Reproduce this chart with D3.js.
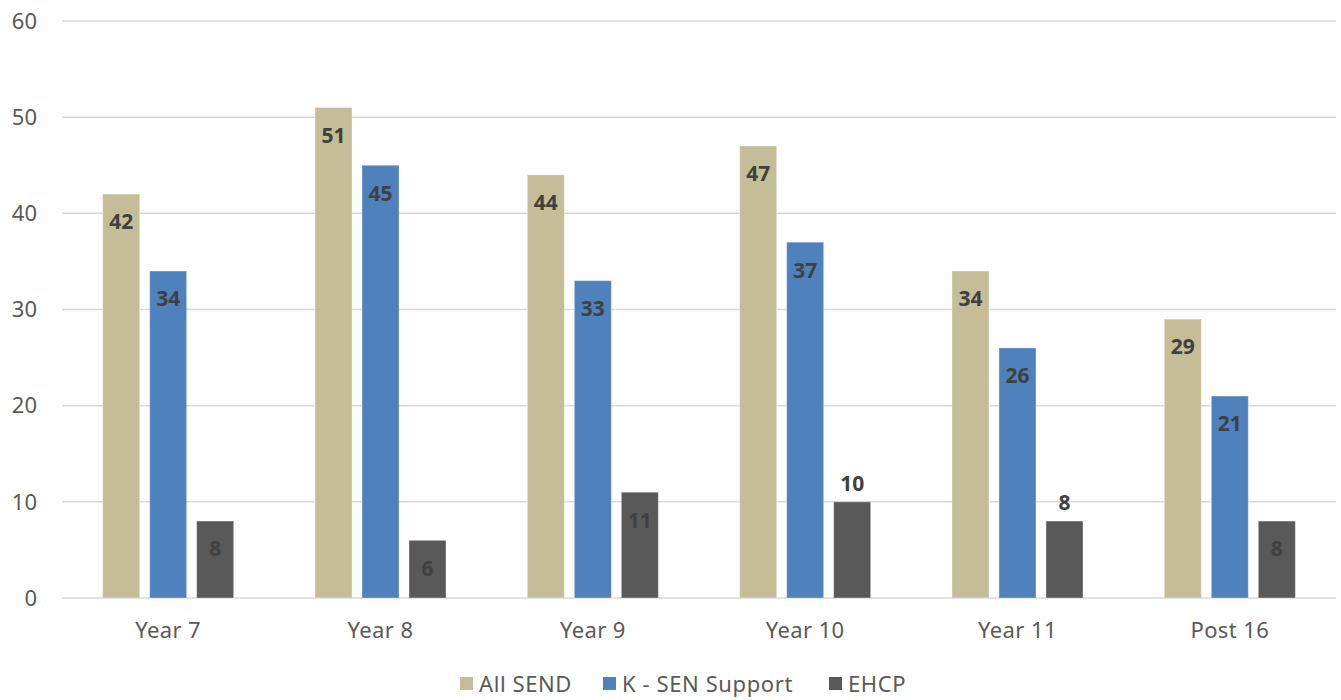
<html>
<head>
<script src="https://d3js.org/d3.v7.min.js"></script>
<style>
  body { margin: 0; background: #fff; }
  text { font-family: "Noto Sans", "Open Sans", sans-serif; }
</style>
</head>
<body>
<div id="chart"></div>
<script>
// data
var categories = ["Year 7", "Year 8", "Year 9", "Year 10", "Year 11", "Post 16"];
var seriesNames = ["All SEND", "K - SEN Support", "EHCP"];
var allSend = [42, 51, 44, 47, 34, 29];
var senSupport = [34, 45, 33, 37, 26, 21];
var ehcp = [8, 6, 11, 10, 8, 8];
var yTicks = [0, 10, 20, 30, 40, 50, 60];

var colors = ["#C4BD97", "#4F81BD", "#595959"];
var series = [allSend, senSupport, ehcp];
// labels that sit above the bar instead of inside it
var outsideLabels = {"EHCP|Year 10": true, "EHCP|Year 11": true};

var width = 1341, height = 700;
var margin = {top: 21, right: 5, bottom: 102, left: 62};
var plotW = width - margin.left - margin.right;
var plotH = height - margin.top - margin.bottom;

var svg = d3.select("#chart").append("svg")
    .attr("width", width)
    .attr("height", height);

var g = svg.append("g")
    .attr("transform", "translate(" + margin.left + "," + margin.top + ")");

var x0 = d3.scaleBand().domain(categories).range([0, plotW]);
var groupW = 131;
var x1 = d3.scaleBand().domain(seriesNames).range([0, groupW]).paddingInner(10 / 47);
var y = d3.scaleLinear().domain([0, 60]).range([plotH, 0]);

// gridlines
g.selectAll(".grid").data(yTicks).enter().append("line")
    .attr("x1", 0).attr("x2", plotW)
    .attr("y1", function (d) { return y(d); })
    .attr("y2", function (d) { return y(d); })
    .attr("stroke", "#D9D9D9")
    .attr("stroke-width", 1.5);

// y labels
g.selectAll(".ylab").data(yTicks).enter().append("text")
    .attr("x", -25)
    .attr("y", function (d) { return y(d); })
    .attr("dy", "0.35em")
    .attr("text-anchor", "end")
    .attr("fill", "#595959")
    .style("font-size", "22px")
    .text(function (d) { return d; });

// bars
var rows = [];
categories.forEach(function (c, i) {
    seriesNames.forEach(function (s, j) {
        rows.push({cat: c, name: s, value: series[j][i], color: colors[j]});
    });
});

function barX(d) {
    return x0(d.cat) + (x0.bandwidth() - groupW) / 2 + x1(d.name);
}

g.selectAll(".bar").data(rows).enter().append("rect")
    .attr("x", barX)
    .attr("y", function (d) { return y(d.value); })
    .attr("width", x1.bandwidth())
    .attr("height", function (d) { return plotH - y(d.value); })
    .attr("fill", function (d) { return d.color; })
    .attr("stroke", "#fff")
    .attr("stroke-opacity", 0.35)
    .attr("stroke-width", 1);

g.selectAll(".val").data(rows).enter().append("text")
    .attr("x", function (d) { return barX(d) + x1.bandwidth() / 2; })
    .attr("y", function (d) {
        return outsideLabels[d.name + "|" + d.cat] ? y(d.value) - 18 : y(d.value) + 28;
    })
    .attr("dy", "0.35em")
    .attr("text-anchor", "middle")
    .attr("fill", "#404040")
    .style("font-size", "21px")
    .style("font-weight", "bold")
    .text(function (d) { return d.value; });

// x labels
g.selectAll(".xlab").data(categories).enter().append("text")
    .attr("x", function (d) { return x0(d) + x0.bandwidth() / 2; })
    .attr("y", plotH + 32)
    .attr("dy", "0.35em")
    .attr("text-anchor", "middle")
    .attr("fill", "#595959")
    .style("font-size", "22px")
    .style("letter-spacing", "0.4px")
    .text(function (d) { return d; });

// legend
var legendX = [460, 603, 829];
var legend = svg.selectAll(".leg").data(seriesNames).enter().append("g")
    .attr("transform", function (d, i) { return "translate(" + legendX[i] + ",684)"; });
legend.append("rect")
    .attr("x", 0).attr("y", -7)
    .attr("width", 13).attr("height", 13)
    .attr("fill", function (d, i) { return colors[i]; });
legend.append("text")
    .attr("x", 19).attr("y", 0)
    .attr("dy", "0.35em")
    .attr("fill", "#595959")
    .style("font-size", "22px")
    .style("letter-spacing", "0.6px")
    .text(function (d) { return d; });
</script>
</body>
</html>
